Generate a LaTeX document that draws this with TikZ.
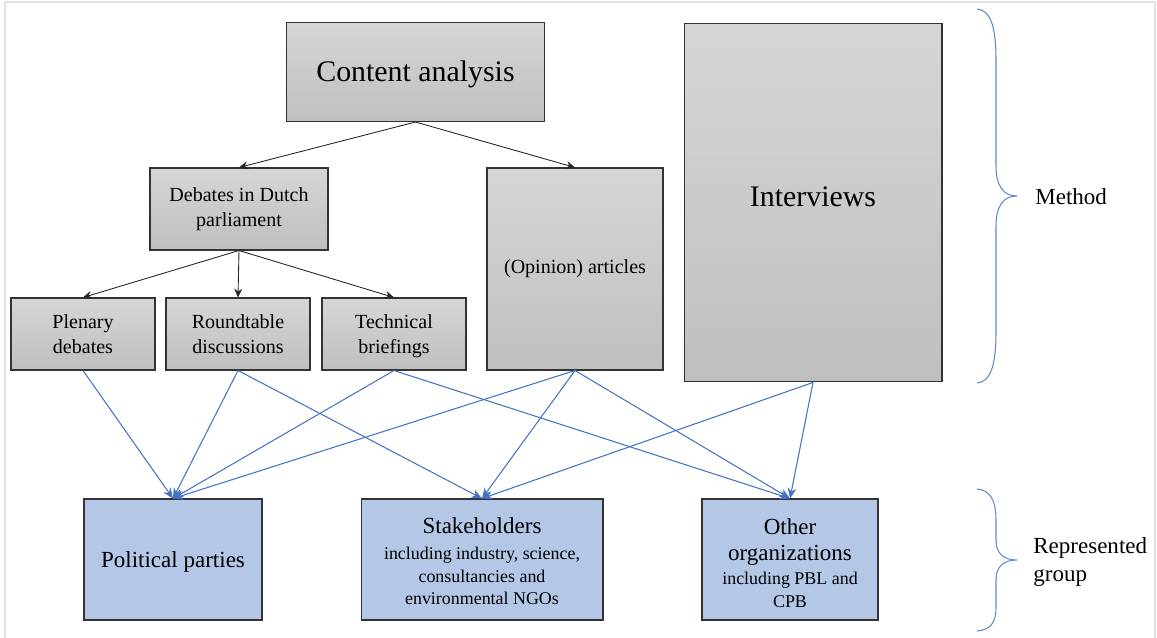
\documentclass[tikz,border=0pt]{standalone}
\usepackage{fontspec}
\setmainfont{Liberation Serif}
\usetikzlibrary{arrows.meta,shapes,calc,positioning}
\definecolor{boxtop}{HTML}{D6D6D6}
\definecolor{boxbot}{HTML}{BFBFBF}
\definecolor{grpfill}{HTML}{B4C7E7}
\definecolor{linkblue}{HTML}{4472C4}
\definecolor{framegray}{HTML}{E3E3E3}
\newcommand{\fsBig}{\fontsize{17}{20}\selectfont}
\newcommand{\fsMid}{\fontsize{13.1}{15.5}\selectfont}
\newcommand{\fsNorm}{\fontsize{11.4}{14.2}\selectfont}
\newcommand{\fsSmall}{\fontsize{10.2}{13}\selectfont}

\begin{document}
\begin{tikzpicture}[x=0.02cm,y=-0.02cm]
	\tikzset{
		methbox/.style={draw=black!80, line width=0.6pt, top color=boxtop, bottom color=boxbot, inner sep=0pt, align=center, font=\fsNorm},
		grpbox/.style={draw=black!80, line width=0.6pt, fill=grpfill, inner sep=0pt, align=center, font=\fsSmall},
		treearr/.style={line width=0.5pt, black!85, -{Stealth[length=5pt,width=4.5pt]}},
		linkarr/.style={line width=0.6pt, linkblue, -{Stealth[length=6pt,width=5pt]}},
		brace/.style={line width=0.6pt, linkblue!85}
	}
	\useasboundingbox (0,0) rectangle (1157,638);
	\draw [line width=1.2pt, framegray] (5,640) -- (5,2) -- (1155,2) -- (1155,640);

	% methods
	\node [methbox, minimum width=5.16cm, minimum height=1.98cm, font=\fsBig, text height=15pt] (content) at (415.5,72) {Content analysis};
	\node [methbox, minimum width=5.16cm, minimum height=7.18cm, font=\fsBig, text depth=7pt] (interv) at (813,202.5) {Interviews};
	\node [methbox, minimum width=3.56cm, minimum height=1.64cm] (debates) at (239,209) {Debates in Dutch\\parliament};
	\node [methbox, minimum width=3.52cm, minimum height=4.04cm] (opinion) at (575,269) {(Opinion) articles};
	\node [methbox, minimum width=2.88cm, minimum height=1.44cm] (plenary) at (83,334) {Plenary\\debates};
	\node [methbox, minimum width=2.88cm, minimum height=1.44cm] (roundt) at (238,334) {Roundtable\\discussions};
	\node [methbox, minimum width=2.88cm, minimum height=1.44cm] (techbr) at (394,334) {Technical\\\smash{briefings}};

	% represented groups
	\node [grpbox, minimum width=3.56cm, minimum height=2.42cm, font=\fsMid, text height=12.3pt] (parties) at (173,559.5) {Political parties};
	\node [grpbox, minimum width=4.84cm, minimum height=2.42cm] (stakeh) at (482,559.5) {\rule{0pt}{11.2pt}{\fsMid Stakeholders}\\[1.6pt]including industry, science,\\consultancies and\\environmental NGOs};
	\node [grpbox, minimum width=3.52cm, minimum height=2.42cm] (otherorg) at (790,559.5) {\rule{0pt}{13.5pt}{\fsMid Other}\\[1.8pt]{\fsMid organizations}\\[0.6pt]including PBL and\\CPB};

	\draw [treearr] (content.south) -- (debates.north);
	\draw [treearr] (content.south) -- (opinion.north);
	\foreach \t in {plenary,roundt,techbr}
		\draw [treearr] (debates.south) -- (\t.north);

	\foreach \s/\t in {plenary/parties,roundt/parties,roundt/stakeh,techbr/parties,techbr/otherorg,opinion/parties,opinion/stakeh,opinion/otherorg,interv/stakeh,interv/otherorg}
		\draw [linkarr] (\s.south) -- (\t.north);

	% braces
	\draw [brace] (977,9) .. controls (990,10) and (996,25) .. (996,60) -- (996,165) .. controls (996,186) and (1003,196) .. (1017,196) .. controls (1003,196) and (996,206) .. (996,227) -- (996,332) .. controls (996,367) and (990,382) .. (977,383);
	\draw [brace] (977,489) .. controls (990,490) and (996,500) .. (996,520) -- (996,540) .. controls (996,553) and (1003,560) .. (1017,560) .. controls (1003,560) and (996,567) .. (996,580) -- (996,608) .. controls (996,623) and (990,630) .. (977,631);
	\node [anchor=west, inner sep=0pt, font=\fsMid] (methlbl) at (1035,197) {Method};
	\node [anchor=west, inner sep=0pt, align=left, font=\fsMid] (grplbl) at (1033,562) {Represented\\group};
\end{tikzpicture}
\end{document}
